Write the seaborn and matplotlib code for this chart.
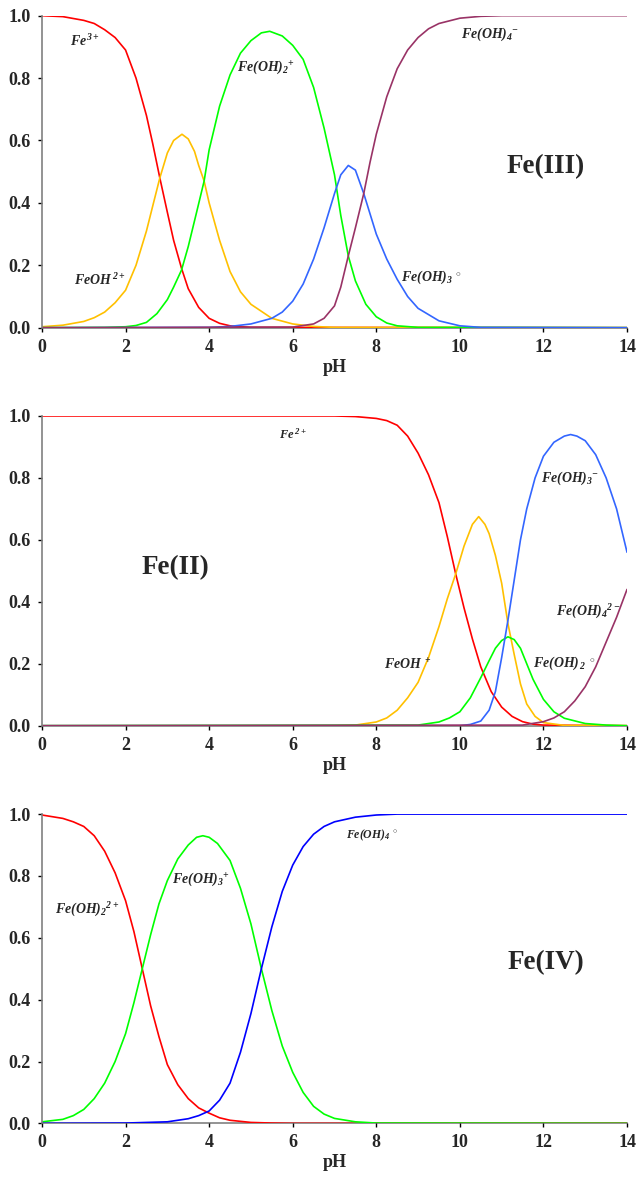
import pandas as pd
import matplotlib
matplotlib.use("Agg")
import matplotlib.pyplot as plt
import seaborn as sns

# ---- Fe(III) ----
ph_fe3 = [0, 0.5, 1, 1.25, 1.5, 1.75, 2, 2.25, 2.5, 2.65, 2.82, 3, 3.15, 3.34, 3.5, 3.75, 4, 4.25, 4.5, 5, 14]
fe3 = [1.0, 0.997, 0.985, 0.975, 0.955, 0.93, 0.89, 0.80, 0.68, 0.59, 0.48, 0.37, 0.28, 0.19, 0.125, 0.065, 0.03, 0.014, 0.006, 0.001, 0.0]
ph_feoh2 = [0, 0.5, 1, 1.25, 1.5, 1.75, 2, 2.25, 2.5, 2.65, 2.82, 3, 3.15, 3.35, 3.5, 3.65, 3.75, 3.88, 4, 4.25,
            4.5, 4.75, 5, 5.5, 6, 6.5, 7, 14]
feoh2 = [0.003, 0.008, 0.02, 0.032, 0.05, 0.08, 0.12, 0.2, 0.31, 0.39, 0.48, 0.56, 0.60, 0.62, 0.605, 0.565, 0.52, 0.47, 0.40, 0.28,
         0.18, 0.115, 0.075, 0.03, 0.012, 0.004, 0.001, 0.0]
ph_feoh2p = [0, 1.5, 2, 2.25, 2.5, 2.75, 3, 3.15, 3.34, 3.5, 3.7, 3.88, 4, 4.25, 4.5, 4.75, 5, 5.25, 5.45, 5.75, 6, 6.25,
             6.5, 6.75, 7, 7.15, 7.33, 7.5, 7.75, 8, 8.25, 8.5, 9, 14]
feoh2p = [0, 0.001, 0.003, 0.007, 0.017, 0.045, 0.09, 0.13, 0.185, 0.26, 0.37, 0.47, 0.57, 0.71, 0.81, 0.88, 0.92, 0.945, 0.95, 0.935, 0.905, 0.86,
          0.77, 0.64, 0.49, 0.36, 0.23, 0.15, 0.075, 0.035, 0.015, 0.006, 0.001, 0]
ph_feoh3 = [0, 4, 4.5, 5, 5.5, 5.75, 6, 6.25, 6.5, 6.75, 7, 7.15, 7.33, 7.5, 7.7, 7.85, 8, 8.25, 8.5, 8.75, 9, 9.5, 10, 10.5, 14]
feoh3 = [0, 0.001, 0.004, 0.012, 0.03, 0.05, 0.085, 0.14, 0.22, 0.32, 0.43, 0.49, 0.52, 0.505, 0.43, 0.365, 0.30, 0.22, 0.155, 0.1, 0.062, 0.022, 0.006, 0.001, 0]
ph_feoh4m = [0, 6, 6.5, 6.75, 7, 7.15, 7.33, 7.5, 7.7, 7.85, 8, 8.25, 8.5, 8.75, 9, 9.25, 9.5, 10, 10.5, 11, 14]
feoh4m = [0, 0.002, 0.012, 0.03, 0.07, 0.13, 0.23, 0.32, 0.43, 0.53, 0.62, 0.74, 0.83, 0.89, 0.93, 0.958, 0.975, 0.992, 0.998, 1.0, 1.0]

# ---- Fe(II) ----
ph_fe2 = [0, 7, 7.5, 8, 8.25, 8.5, 8.75, 9, 9.25, 9.5, 9.7, 9.9, 10.1, 10.3, 10.5, 10.75, 11, 11.25, 11.5, 11.75, 12, 14]
fe2 = [1, 1, 0.998, 0.992, 0.985, 0.97, 0.935, 0.88, 0.81, 0.72, 0.61, 0.49, 0.38, 0.28, 0.19, 0.11, 0.06, 0.03, 0.013, 0.005, 0.002, 0]
ph_feohp = [0, 7, 7.5, 8, 8.25, 8.5, 8.75, 9, 9.25, 9.5, 9.7, 9.9, 10.1, 10.3, 10.45, 10.6, 10.7, 10.85, 11, 11.15,
            11.3, 11.45, 11.6, 11.8, 12, 12.5, 14]
feohp = [0, 0, 0.002, 0.012, 0.025, 0.05, 0.09, 0.14, 0.22, 0.32, 0.41, 0.49, 0.58, 0.65, 0.675, 0.65, 0.62, 0.55, 0.46, 0.33,
         0.23, 0.135, 0.07, 0.03, 0.01, 0.001, 0]
ph_feoh2o = [0, 9, 9.5, 9.75, 10, 10.25, 10.5, 10.7, 10.85, 11, 11.15, 11.3, 11.45, 11.6, 11.75, 12, 12.25, 12.5, 13, 13.5, 14]
feoh2o = [0, 0.002, 0.012, 0.025, 0.045, 0.09, 0.155, 0.21, 0.25, 0.275, 0.287, 0.278, 0.25, 0.2, 0.15, 0.085, 0.045, 0.024, 0.007, 0.002, 0.0]
ph_feoh3m = [0, 10, 10.25, 10.5, 10.7, 10.85, 11, 11.15, 11.3, 11.45, 11.6, 11.8, 12, 12.25, 12.5, 12.65, 12.8, 13, 13.25, 13.5, 13.75, 14]
feoh3m = [0, 0.0, 0.004, 0.015, 0.05, 0.11, 0.22, 0.34, 0.47, 0.6, 0.7, 0.8, 0.87, 0.915, 0.935, 0.94, 0.935, 0.92, 0.875, 0.80, 0.70, 0.56]
ph_feoh4mm = [0, 11.5, 12, 12.25, 12.5, 12.75, 13, 13.25, 13.5, 13.75, 14]
feoh4mm = [0, 0.002, 0.013, 0.025, 0.045, 0.08, 0.126, 0.19, 0.27, 0.35, 0.44]

# ---- Fe(IV) ----
ph_feoh22 = [0, 0.5, 0.75, 1, 1.25, 1.5, 1.75, 2, 2.2, 2.4, 2.6, 2.8, 3, 3.25, 3.5, 3.75, 4, 4.25, 4.5, 5, 5.5, 6, 14]
feoh22 = [0.997, 0.986, 0.975, 0.96, 0.93, 0.88, 0.81, 0.72, 0.62, 0.5, 0.38, 0.28, 0.19, 0.125, 0.08, 0.05, 0.033, 0.018, 0.01, 0.003, 0.001, 0, 0]
ph_feoh3p = [0, 0.5, 0.75, 1, 1.25, 1.5, 1.75, 2, 2.2, 2.4, 2.6, 2.8, 3, 3.25, 3.5, 3.7, 3.85, 4, 4.2, 4.5, 4.75, 5, 5.25,
             5.5, 5.75, 6, 6.25, 6.5, 6.75, 7, 7.5, 8, 14]
feoh3p = [0.005, 0.013, 0.025, 0.045, 0.08, 0.13, 0.2, 0.29, 0.39, 0.5, 0.61, 0.71, 0.785, 0.855, 0.9, 0.925, 0.93, 0.925, 0.905, 0.85, 0.76, 0.645, 0.5,
          0.365, 0.25, 0.165, 0.1, 0.055, 0.03, 0.016, 0.005, 0.001, 0]
ph_feoh4o = [0, 2, 3, 3.5, 3.75, 4, 4.25, 4.5, 4.75, 5, 5.25, 5.5, 5.75, 6, 6.25, 6.5, 6.75, 7, 7.5, 8, 8.5, 14]
feoh4o = [0, 0.001, 0.005, 0.015, 0.025, 0.04, 0.075, 0.13, 0.23, 0.355, 0.5, 0.635, 0.75, 0.835, 0.895, 0.935, 0.96, 0.975, 0.99, 0.997, 1.0, 1.0]

RED, YEL, GRN, LBLU, BLU, MAR = "#FF0000", "#FFC000", "#00FF00", "#3366FF", "#0000FF", "#993366"

def long_df(series):
    frames = []
    for name, x, y in series:
        frames.append(pd.DataFrame({"pH": x, "frac": y, "species": name}))
    return pd.concat(frames, ignore_index=True)

panels = [
    dict(rect=[0.0658, 0.7223, 0.917, 0.2644], title="Fe(III)", title_xy=(12.05, 0.515),
         series=[("Fe3+", ph_fe3, fe3, RED), ("FeOH2+", ph_feoh2, feoh2, YEL),
                 ("Fe(OH)2+", ph_feoh2p, feoh2p, GRN), ("Fe(OH)3", ph_feoh3, feoh3, LBLU),
                 ("Fe(OH)4-", ph_feoh4m, feoh4m, MAR)],
         labels=[(0.66, 0.92, r"$Fe^{3+}$", 10), (4.67, 0.835, r"$Fe(OH)_2{}^{+}$", 10),
                 (0.76, 0.153, r"$FeOH^{\,2+}$", 10), (10.02, 0.94, r"$Fe(OH)_4{}^{-}$", 10),
                 (8.58, 0.163, r"$Fe(OH)_3{}^{\ \circ}$", 10)]),
    dict(rect=[0.0658, 0.385, 0.917, 0.2625], title="Fe(II)", title_xy=(3.2, 0.51),
         series=[("Fe2+", ph_fe2, fe2, RED), ("FeOH+", ph_feohp, feohp, YEL),
                 ("Fe(OH)2", ph_feoh2o, feoh2o, GRN), ("Fe(OH)3-", ph_feoh3m, feoh3m, LBLU),
                 ("Fe(OH)4 2-", ph_feoh4mm, feoh4mm, MAR)],
         labels=[(5.68, 0.94, r"$Fe^{\,2+}$", 9), (8.18, 0.196, r"$FeOH^{\,+}$", 10),
                 (11.94, 0.80, r"$Fe(OH)_3{}^{-}$", 10), (12.3, 0.367, r"$Fe(OH)_4{}^{2-}$", 10),
                 (11.75, 0.20, r"$Fe(OH)_{\,2}{}^{\ \circ}$", 10)]),
    dict(rect=[0.0658, 0.048, 0.917, 0.2621], title="Fe(IV)", title_xy=(12.05, 0.52),
         series=[("Fe(OH)2 2+", ph_feoh22, feoh22, RED), ("Fe(OH)3+", ph_feoh3p, feoh3p, GRN),
                 ("Fe(OH)4", ph_feoh4o, feoh4o, BLU)],
         labels=[(0.3, 0.69, r"$Fe(OH)_2{}^{2+}$", 10), (3.11, 0.79, r"$Fe(OH)_3{}^{+}$", 10),
                 (7.28, 0.93, r"$Fe(OH)_4{}^{\ \circ}$", 8.5)]),
]

sns.set_style("ticks")
plt.rcParams["font.family"] = ["Liberation Serif", "DejaVu Serif"]
plt.rcParams["font.weight"] = "bold"
plt.rcParams["mathtext.fontset"] = "custom"
plt.rcParams["mathtext.rm"] = "Liberation Serif:bold:italic"
plt.rcParams["mathtext.it"] = "Liberation Serif:bold:italic"
plt.rcParams["mathtext.bf"] = "Liberation Serif:bold:italic"

fig = plt.figure(figsize=(6.38, 11.8), dpi=100)
for p in panels:
    ax = fig.add_axes(p["rect"])
    df = long_df([(n, x, y) for n, x, y, c in p["series"]])
    pal = {n: c for n, x, y, c in p["series"]}
    sns.lineplot(data=df, x="pH", y="frac", hue="species", palette=pal,
                 estimator=None, legend=False, linewidth=1.2, ax=ax)
    ax.set_xlim(0, 14)
    ax.set_ylim(0, 1.0)
    ax.set_xticks(range(0, 15, 2))
    ax.set_yticks([0, 0.2, 0.4, 0.6, 0.8, 1.0])
    ax.set_yticklabels(["0.0", "0.2", "0.4", "0.6", "0.8", "1.0"])
    ax.set_xlabel("pH", fontsize=13, fontweight="bold", labelpad=2)
    ax.set_ylabel("")
    ax.tick_params(labelsize=13, length=3, width=1, color="black", direction="out", pad=5)
    for t in ax.get_xticklabels() + ax.get_yticklabels():
        t.set_fontweight("bold")
    sns.despine(ax=ax)
    for s in ("left", "bottom"):
        ax.spines[s].set_color("#808080")
        ax.spines[s].set_linewidth(1.2)
    ax.spines["bottom"].set_zorder(0)
    for x, y, txt, fs in p["labels"]:
        ax.text(x, y, txt, fontsize=fs, ha="left", va="center")
    ax.text(p["title_xy"][0], p["title_xy"][1], p["title"], fontsize=19.5,
            fontweight="bold", ha="center", va="center")

fig.savefig("out.png", dpi=100)
